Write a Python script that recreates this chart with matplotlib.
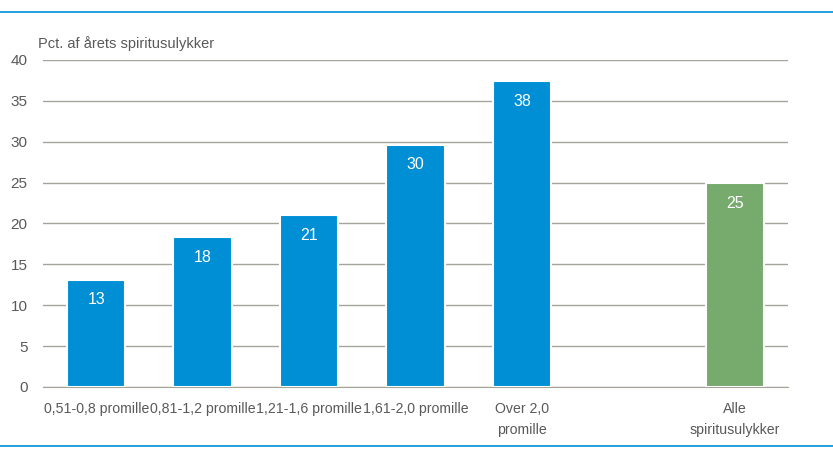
import matplotlib.pyplot as plt
from matplotlib.lines import Line2D

categories = ["0,51-0,8 promille", "0,81-1,2 promille", "1,21-1,6 promille",
              "1,61-2,0 promille", "Over 2,0\npromille", "", "Alle\nspiritusulykker"]
values = [13.1, 18.3, 21.0, 29.6, 37.4, None, 24.9]
value_labels = ["13", "18", "21", "30", "38", "", "25"]
bar_colors = ["#008FD5", "#008FD5", "#008FD5", "#008FD5", "#008FD5", None, "#77AB6E"]

plt.rcParams['font.family'] = ['Liberation Sans', 'DejaVu Sans']
text_color = "#595959"

fig = plt.figure(figsize=(8.33, 4.54), dpi=100)
ax = fig.add_axes([43 / 833, 1 - 387 / 454, 745 / 833, 327 / 454])

x = list(range(len(categories)))
for i, v in enumerate(values):
    if v is None:
        continue
    ax.bar(i, v, width=0.55, color=bar_colors[i], edgecolor="white", linewidth=1.5, zorder=3)
    ax.text(i, v - 1.5, value_labels[i], ha="center", va="top", color="white", fontsize=11.5, zorder=4)

ax.set_xlim(-0.5, len(categories) - 0.5)
ax.set_ylim(0, 40)
ax.set_yticks(range(0, 41, 5))
ax.set_xticks(x)
ax.set_xticklabels(categories, fontsize=10.2, color=text_color, linespacing=1.6)
ax.tick_params(axis="y", labelsize=11, labelcolor=text_color, length=0, pad=11)
ax.tick_params(axis="x", length=0, pad=11)
ax.grid(axis="y", color="#A6A499", linewidth=1, zorder=0)
ax.set_axisbelow(True)
for s in ["top", "right", "left"]:
    ax.spines[s].set_visible(False)
ax.spines["bottom"].set_color("#A6A499")
ax.spines["bottom"].set_zorder(2)

fig.text(38 / 833, 1 - 44 / 454, "Pct. af årets spiritusulykker", fontsize=10.5, color=text_color, va="center")

fig.add_artist(Line2D([0, 1], [1 - 12 / 454, 1 - 12 / 454], color="#008FD5", linewidth=1.2, transform=fig.transFigure))
fig.add_artist(Line2D([0, 1], [1 - 446 / 454, 1 - 446 / 454], color="#008FD5", linewidth=1.2, transform=fig.transFigure))

fig.savefig("out.png", dpi=100)
